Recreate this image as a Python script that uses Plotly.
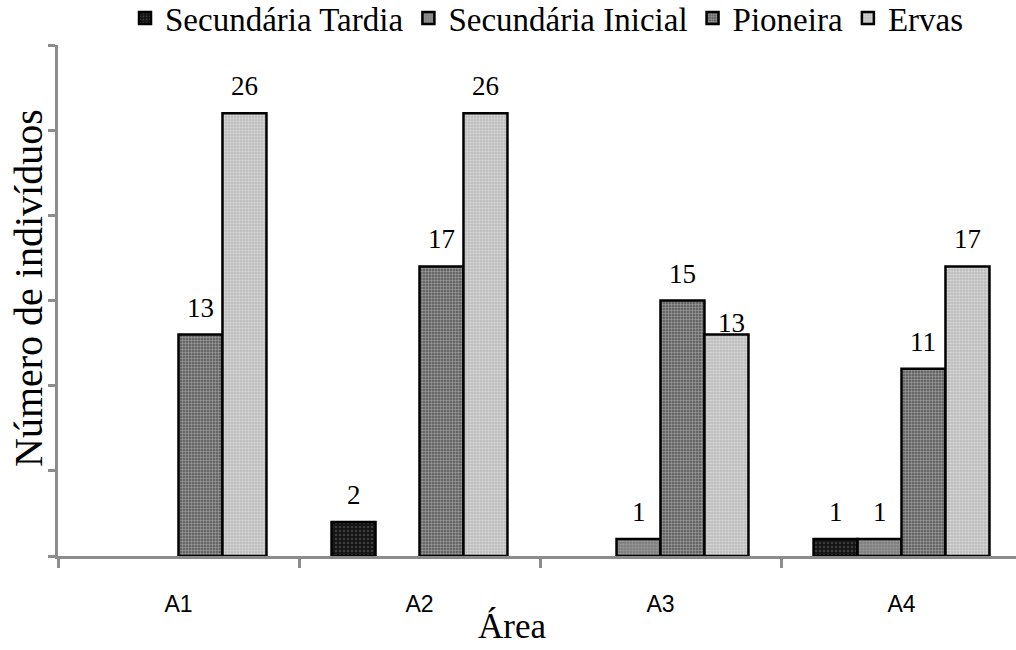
import plotly.graph_objects as go

# Número de indivíduos por grupo ecológico em cada área
areas = ["A1", "A2", "A3", "A4"]
series_names = ["Secundária Tardia", "Secundária Inicial", "Pioneira", "Ervas"]
sec_tardia = [0, 2, 0, 1]
sec_inicial = [0, 0, 1, 1]
pioneira = [13, 17, 15, 11]
ervas = [26, 26, 13, 17]

series_values = [sec_tardia, sec_inicial, pioneira, ervas]

# fill + texture for each group
styles = [
    dict(color="#131313", fg="#3c3c3c", size=4, solidity=0.35),
    dict(color="#7f7f7f", fg="#9a9a9a", size=3, solidity=0.4),
    dict(color="#555555", fg="#999999", size=3, solidity=0.5),
    dict(color="#bdbdbd", fg="#dadada", size=3, solidity=0.4),
]

SERIF = "Liberation Serif"
SANS = "Liberation Sans"
AXIS_GRAY = "#8c8c8c"
BARGAP = 0.27
W, H = 1016, 650
ML, MR, MT, MB = 58, 0, 45, 94

fig = go.Figure()
for name, vals, st in zip(series_names, series_values, styles):
    fig.add_trace(go.Bar(
        name=name,
        x=areas,
        y=[v if v else None for v in vals],
        marker=dict(
            color=st["color"],
            line=dict(color="black", width=2.5),
            pattern=dict(shape=".", fgcolor=st["fg"], bgcolor=st["color"],
                         size=st["size"], solidity=st["solidity"], fillmode="replace"),
        ),
        hoverinfo="x+y+name",
    ))

# value labels above each non-zero bar
n = len(series_names)
bar_w = (1 - BARGAP) / n
for j, vals in enumerate(series_values):
    for i, v in enumerate(vals):
        if not v:
            continue
        tight = (i, j) == (2, 3)  # A3 / Ervas label sits right on its bar
        xpos = i - (1 - BARGAP) / 2 + bar_w * (j + 0.5)
        fig.add_annotation(
            x=xpos, y=v, xref="x", yref="y",
            text=str(v), showarrow=False,
            yanchor="bottom", yshift=-5 if tight else 10,
            xshift=5 if tight else 0,
            font=dict(family=SERIF, size=27, color="black"),
        )

plot_w = W - ML - MR
plot_h = H - MT - MB

# axis titles
fig.add_annotation(
    text="Número de indivíduos", textangle=-90, showarrow=False,
    xref="paper", yref="paper",
    x=(28 - ML) / plot_w, y=(H - MB - 288) / plot_h,
    xanchor="center", yanchor="middle",
    font=dict(family=SERIF, size=40, color="black"),
)
fig.add_annotation(
    text="Área", showarrow=False,
    xref="paper", yref="paper",
    x=(512 - ML) / plot_w, y=-(H - 2 - (H - MB)) / plot_h,
    xanchor="center", yanchor="bottom",
    font=dict(family=SERIF, size=35, color="black"),
)

fig.update_layout(
    width=W, height=H,
    margin=dict(l=ML, r=MR, t=MT, b=MB, autoexpand=False),
    paper_bgcolor="white", plot_bgcolor="white",
    barmode="group", bargap=BARGAP, bargroupgap=0,
    showlegend=True,
    legend=dict(
        orientation="h", xref="container", yref="container",
        x=547 / W, xanchor="center", y=1 - 18 / H, yanchor="middle",
        font=dict(family=SERIF, size=33, color="black"),
        itemwidth=30, tracegroupgap=0, bgcolor="rgba(0,0,0,0)",
    ),
    xaxis=dict(
        type="category", range=[-0.5, -0.5 + plot_w / 241],
        showline=True, linecolor=AXIS_GRAY, linewidth=2.5,
        ticks="outside", tickson="boundaries", ticklen=9, tickwidth=2.5, tickcolor=AXIS_GRAY,
        tickfont=dict(family=SANS, size=23, color="black"),
        ticklabelstandoff=26,
        showgrid=False, zeroline=False,
        automargin=False,
    ),
    yaxis=dict(
        range=[0, 30], dtick=5, showticklabels=False,
        showline=True, linecolor=AXIS_GRAY, linewidth=2.5,
        ticks="outside", ticklen=7, tickwidth=2.5, tickcolor=AXIS_GRAY,
        showgrid=False, zeroline=False,
        automargin=False,
    ),
)

fig.write_html("out.html")
